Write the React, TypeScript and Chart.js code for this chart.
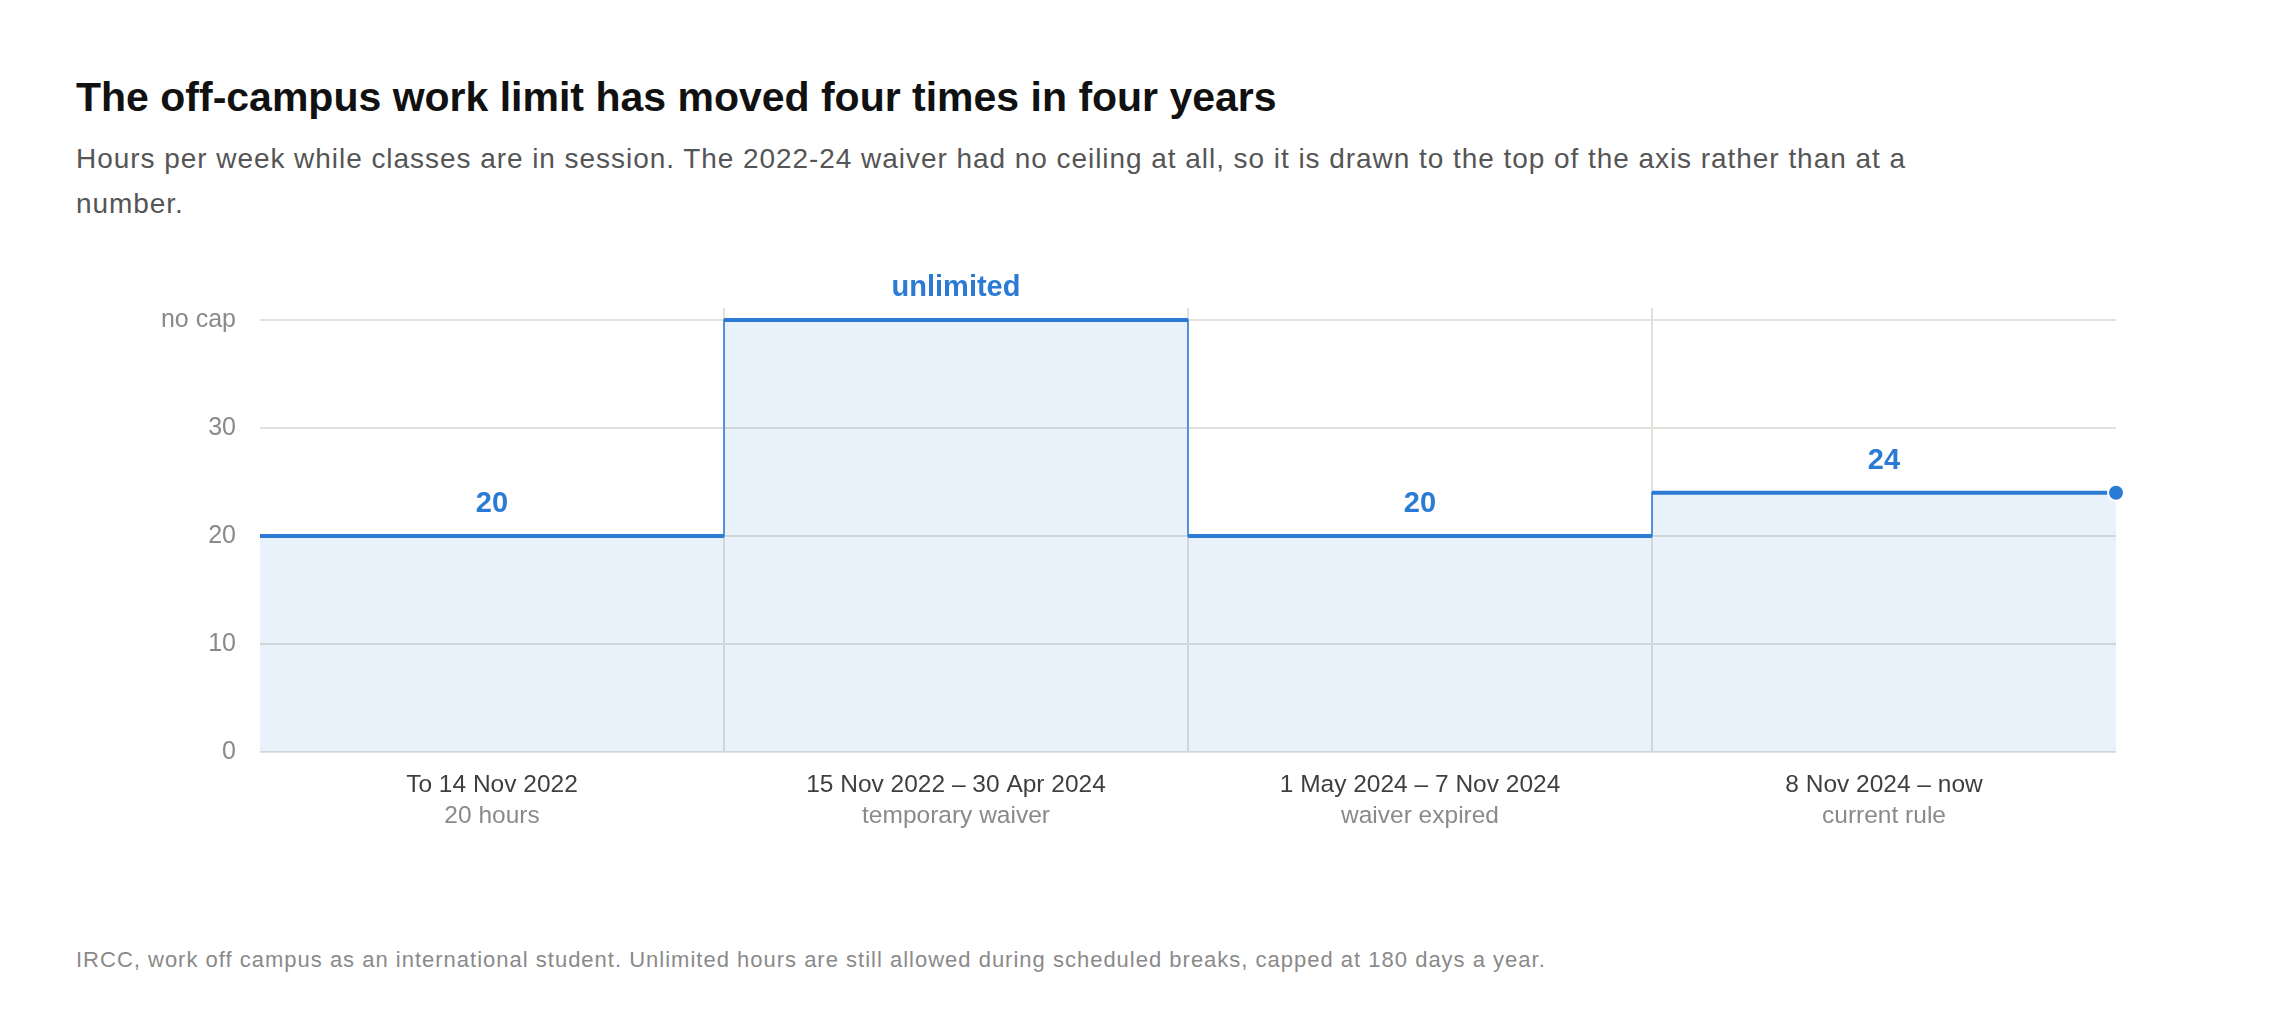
import React, { useEffect, useRef } from 'react';
import { Chart, registerables } from 'chart.js';

Chart.register(...registerables);

// ---- data ----
const periodLabels = ['To 14 Nov 2022', '15 Nov 2022 – 30 Apr 2024', '1 May 2024 – 7 Nov 2024', '8 Nov 2024 – now'];
const periodNotes = ['20 hours', 'temporary waiver', 'waiver expired', 'current rule'];
const NO_CAP = 40; // the waiver had no ceiling; drawn at the top tick
const hoursPerWeek = [20, NO_CAP, 20, 24];
const valueLabels = ['20', 'unlimited', '20', '24'];
const yTicks = [0, 10, 20, 30, 40];
const yTickLabels = ['0', '10', '20', '30', 'no cap'];

const BLUE = '#2a7ad6';
const FILL = 'rgba(42,122,214,0.10)';
const GRID = '#e2e2dc';
const FONT = "'Liberation Sans', Arial, Helvetica, sans-serif";

function App() {
  const ref = useRef<HTMLCanvasElement | null>(null);

  useEffect(() => {
    if (!ref.current) return;
    const n = hoursPerWeek.length;
    // stepped outline (thin risers) with fill
    const stepPoints = hoursPerWeek.map((v, i) => ({ x: i, y: v }));
    stepPoints.push({ x: n, y: hoursPerWeek[n - 1] });
    // thick horizontal segments, broken between periods
    const segPoints: { x: number; y: number | null }[] = [];
    hoursPerWeek.forEach((v, i) => {
      segPoints.push({ x: i, y: v });
      segPoints.push({ x: i + 1, y: v });
      if (i < n - 1) segPoints.push({ x: i + 1, y: null });
    });
    const endPoint = [{ x: n, y: hoursPerWeek[n - 1] }];

    const labelPlugin = {
      id: 'valueLabels',
      afterDatasetsDraw(chart: any) {
        const { ctx, scales } = chart;
        ctx.save();
        ctx.font = `bold 29px ${FONT}`;
        ctx.fillStyle = BLUE;
        ctx.textAlign = 'center';
        ctx.textBaseline = 'alphabetic';
        hoursPerWeek.forEach((v, i) => {
          const x = scales.x.getPixelForValue(i + 0.5);
          const y = scales.y.getPixelForValue(v) - 24;
          ctx.fillText(valueLabels[i], x, y);
        });
        ctx.restore();
      },
    };

    const chart = new Chart(ref.current, {
      type: 'line',
      data: {
        datasets: [
          {
            data: endPoint,
            showLine: false,
            pointRadius: 8,
            pointHoverRadius: 8,
            pointBackgroundColor: BLUE,
            pointBorderColor: '#ffffff',
            pointBorderWidth: 2,
            clip: false,
          } as any,
          {
            data: segPoints,
            borderColor: BLUE,
            borderWidth: 4,
            pointRadius: 0,
            spanGaps: false,
            fill: false,
            borderCapStyle: 'butt',
          } as any,
          {
            data: stepPoints,
            stepped: 'before',
            borderColor: BLUE,
            borderWidth: 1.5,
            pointRadius: 0,
            fill: 'origin',
            backgroundColor: FILL,
          } as any,
        ],
      },
      options: {
        animation: false,
        responsive: false,
        events: [],
        layout: { padding: { top: 68, right: 40, bottom: 0, left: 0 } },
        plugins: { legend: { display: false }, tooltip: { enabled: false } },
        scales: {
          x: {
            type: 'linear',
            display: false,
            min: 0,
            max: hoursPerWeek.length,
          },
          periods: {
            type: 'category',
            labels: periodLabels,
            position: 'bottom',
            weight: 1,
            offset: true,
            border: { display: false },
            grid: {
              offset: true,
              drawTicks: false,
              lineWidth: 2,
              color: (c: any) =>
                c.type !== 'tick' || c.index === 0 || c.index >= periodLabels.length ? 'rgba(0,0,0,0)' : GRID,
            },
            ticks: {
              padding: 19,
              color: '#3f3f3f',
              font: { family: FONT, size: 24.5 },
              maxRotation: 0,
              autoSkip: false,
            },
            afterFit: (s: any) => {
              s.height = 48;
            },
          } as any,
          notes: {
            type: 'category',
            labels: periodNotes,
            position: 'bottom',
            weight: 2,
            offset: true,
            border: { display: false },
            grid: { display: false, drawTicks: false },
            ticks: {
              padding: 2,
              color: '#8a8a8a',
              font: { family: FONT, size: 24.5 },
              maxRotation: 0,
              autoSkip: false,
            },
            afterFit: (s: any) => {
              s.height = 48;
            },
          } as any,
          y: {
            type: 'linear',
            min: 0,
            max: 41.1,
            border: { display: false },
            grid: { color: GRID, lineWidth: 2, drawTicks: false },
            afterBuildTicks: (s: any) => {
              s.ticks = yTicks.map((v) => ({ value: v }));
            },
            afterFit: (s: any) => {
              s.width = 184;
            },
            ticks: {
              padding: 24,
              color: '#8a8a8a',
              font: { family: FONT, size: 25 },
              callback: (v: any) => {
                const k = yTicks.indexOf(Number(v));
                return k >= 0 ? yTickLabels[k] : '';
              },
            },
          } as any,
        },
      },
      plugins: [labelPlugin],
    } as any);
    return () => chart.destroy();
  }, []);

  return (
    <div style={{ position: 'relative', width: 2256, height: 1004, fontFamily: FONT }}>
      <div
        style={{
          position: 'absolute',
          left: 68,
          top: 64.5,
          fontSize: 41,
          lineHeight: '48px',
          fontWeight: 700,
          color: '#111111',
          whiteSpace: 'nowrap',
        }}
      >
        The off-campus work limit has moved four times in four years
      </div>
      <div
        style={{
          position: 'absolute',
          left: 68,
          top: 127.5,
          fontSize: 28,
          lineHeight: '45px',
          letterSpacing: '0.95px',
          color: '#555555',
          whiteSpace: 'nowrap',
        }}
      >
        Hours per week while classes are in session. The 2022-24 waiver had no ceiling at all, so it is drawn to the top of the axis rather than at a
        <br />
        number.
      </div>
      <canvas
        ref={ref}
        width={2080}
        height={608}
        style={{ position: 'absolute', left: 68, top: 232, width: 2080, height: 608 }}
      />
      <div
        style={{
          position: 'absolute',
          left: 68,
          top: 939,
          fontSize: 22,
          lineHeight: '26px',
          letterSpacing: '1px',
          color: '#8a8a8a',
          whiteSpace: 'nowrap',
        }}
      >
        IRCC, work off campus as an international student. Unlimited hours are still allowed during scheduled breaks, capped at 180 days a year.
      </div>
    </div>
  );
}

export default App;
